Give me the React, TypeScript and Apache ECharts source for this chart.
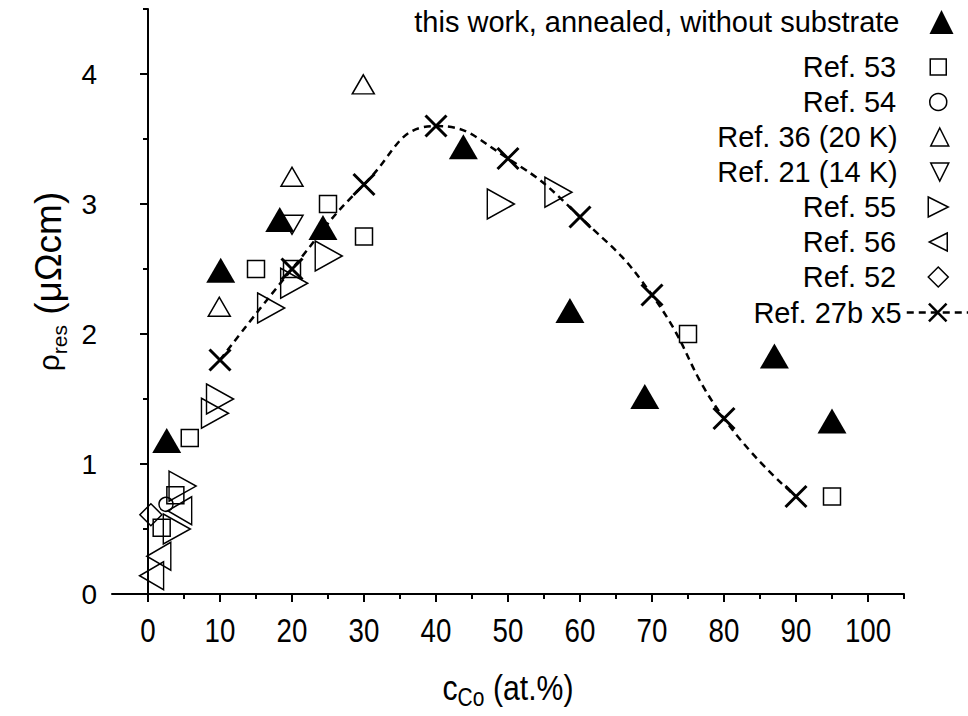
import React, { useEffect, useRef } from "react";
import * as echarts from "echarts";

// Residual resistivity vs. Co concentration, [c_Co (at.%), rho_res (µΩcm)]
const thisWork = [[2.6, 1.18], [10.1, 2.49], [18.3, 2.88], [24.3, 2.82], [43.8, 3.44], [58.6, 2.18], [69.0, 1.52], [87.0, 1.83], [95.0, 1.33]];
const ref53 = [[1.9, 0.51], [3.8, 0.76], [5.8, 1.2], [15, 2.5], [20, 2.5], [25, 3.0], [30, 2.75], [75, 2.0], [95, 0.75]];
const ref54 = [[2.5, 0.69]];
const ref36 = [[9.9, 2.21], [20, 3.21], [29.9, 3.92]];
const ref21 = [[20, 2.84]];
const ref55 = [[4.0, 0.5], [4.8, 0.83], [9.3, 1.39], [10, 1.5], [17.1, 2.2], [20.3, 2.39], [25.1, 2.6], [49, 3.0], [57, 3.09]];
const ref56 = [[0.5, 0.14], [1.5, 0.29], [4.4, 0.64]];
const ref52 = [[0.4, 0.61]];
const ref27bX = [10, 20, 30, 40, 50, 60, 70, 80, 90];
const ref27bY = [1.8, 2.5, 3.15, 3.6, 3.35, 2.9, 2.3, 1.35, 0.75];

// Axis ticks
const xTicks = [0, 10, 20, 30, 40, 50, 60, 70, 80, 90, 100];
const xMinorTicks = [5, 15, 25, 35, 45, 55, 65, 75, 85, 95, 105];
const yTicks = [0, 1, 2, 3, 4];
const yMinorTicks = [0.5, 1.5, 2.5, 3.5, 4.5];

const FONT = "'Liberation Sans', Arial, sans-serif";
const NARROW_SCALE = 0.84;

const UP = "path://M5,0L10,10L0,10Z";
const DOWN = "path://M0,0L10,0L5,10Z";
const RIGHT = "path://M0,0L10,5L0,10Z";
const LEFT = "path://M10,0L0,5L10,10Z";
const SQUARE = "path://M0,0L10,0L10,10L0,10Z";
const DIAMOND = "path://M5,0L10,5L5,10L0,5Z";
const CROSS = "path://M0,0L10,10M10,0L0,10";

type Item = {
  name: string;
  data: number[][];
  symbol: string;
  size: number[];
  legendSize: number[];
  filled?: boolean;
};

const items: Item[] = [
  { name: "this work, annealed, without substrate", data: thisWork, symbol: UP, size: [29, 25], legendSize: [29, 24], filled: true },
  { name: "Ref. 53", data: ref53, symbol: SQUARE, size: [17, 17], legendSize: [16, 16] },
  { name: "Ref. 54", data: ref54, symbol: "circle", size: [14, 14], legendSize: [17, 17] },
  { name: "Ref. 36 (20 K)", data: ref36, symbol: UP, size: [22, 19], legendSize: [21, 18] },
  { name: "Ref. 21 (14 K)", data: ref21, symbol: DOWN, size: [22, 19], legendSize: [21, 18] },
  { name: "Ref. 55", data: ref55, symbol: RIGHT, size: [27, 30], legendSize: [20, 28] },
  { name: "Ref. 56", data: ref56, symbol: LEFT, size: [24, 28], legendSize: [18, 26] },
  { name: "Ref. 52", data: ref52, symbol: DIAMOND, size: [22, 22], legendSize: [20, 20] },
];

const legendRows = [22, 67, 102, 137, 172, 207, 242, 277, 313];
const ICON_CX = 939;
const TEXT_RIGHT = 897;

export default function App() {
  const ref = useRef<HTMLDivElement>(null);

  useEffect(() => {
    if (!ref.current) return;
    const chart = echarts.init(ref.current, null, { renderer: "svg" });

    const scatterSeries = items.map((it) => ({
      name: it.name,
      type: "scatter",
      data: it.data,
      symbol: it.symbol,
      symbolSize: it.size,
      itemStyle: it.filled
        ? { color: "#000", borderWidth: 0, opacity: 1 }
        : { color: "transparent", borderColor: "#000", borderWidth: 1.5, opacity: 1 },
      z: it.filled ? 4 : 3,
    }));

    const lineSeries = {
      name: "Ref. 27b x5",
      type: "line",
      data: ref27bX.map((x, i) => [x, ref27bY[i]]),
      smooth: 0.5,
      symbol: CROSS,
      symbolSize: 21,
      showAllSymbol: true,
      lineStyle: { color: "#000", width: 2.5, type: [7, 5] },
      itemStyle: { color: "transparent", borderColor: "#000", borderWidth: 3, opacity: 1 },
      z: 5,
    };

    const legendText = (gap: number) => ({
      fontSize: 29,
      fontFamily: FONT,
      color: "#000",
      padding: [0, gap, 0, 0],
    });

    const legends: any[] = items.map((it, i) => {
      const iconLeft = ICON_CX - it.legendSize[0] / 2;
      return {
        data: [it.name],
        orient: "vertical",
        align: "right",
        padding: 0,
        selectedMode: false,
        right: 968 - (ICON_CX + it.legendSize[0] / 2),
        top: legendRows[i] - Math.max(it.legendSize[1], 29) / 2,
        itemWidth: it.legendSize[0],
        itemHeight: it.legendSize[1],
        itemStyle: it.filled ? { borderWidth: 0 } : { borderWidth: 1.5 },
        textStyle: legendText(Math.max(0, iconLeft - TEXT_RIGHT - 5)),
      };
    });
    legends.push({
      data: ["Ref. 27b x5"],
      orient: "vertical",
      align: "right",
      padding: 0,
      selectedMode: false,
      right: 968 - (ICON_CX + 31),
      top: legendRows[8] - 15,
      itemWidth: 62,
      itemHeight: 22,
      itemStyle: { borderWidth: 2.5 },
      lineStyle: { width: 2.5 },
      textStyle: legendText(0),
    });

    const axisLine = { show: true, lineStyle: { color: "#000", width: 2 } };

    chart.setOption({
      animation: false,
      grid: { left: 112, right: 64, top: 9, bottom: 122 },
      legend: legends,
      xAxis: [
        {
          type: "value",
          min: -5,
          max: 105,
          position: "bottom",
          axisLine,
          splitLine: { show: false },
          axisTick: { show: true, customValues: xTicks, length: 8, lineStyle: { color: "#000", width: 2 } },
          axisLabel: { show: false },
        },
        {
          type: "value",
          min: -5,
          max: 105,
          position: "bottom",
          axisLine: { show: false },
          splitLine: { show: false },
          axisTick: { show: true, customValues: xMinorTicks, length: 5, lineStyle: { color: "#000", width: 2 } },
          axisLabel: { show: false },
        },
      ],
      yAxis: [
        {
          type: "value",
          min: 0,
          max: 4.5,
          position: "left",
          axisLine,
          splitLine: { show: false },
          axisTick: { show: true, customValues: yTicks, length: 8, lineStyle: { color: "#000", width: 2 } },
          axisLabel: { customValues: yTicks, margin: 15, fontSize: 28, fontFamily: FONT, color: "#000" },
          name: "{r|ρ}{s|res}{a| (μΩcm)}",
          nameLocation: "middle",
          nameGap: 42,
          nameTextStyle: {
            color: "#000",
            rich: {
              r: { fontSize: 30, fontFamily: FONT, color: "#000", lineHeight: 44, padding: [0, 0, 0, 40] },
              s: { fontSize: 21, fontFamily: FONT, color: "#000", verticalAlign: "bottom" },
              a: { fontSize: 37, fontFamily: FONT, color: "#000", lineHeight: 44 },
            },
          },
        },
        {
          type: "value",
          min: 0,
          max: 4.5,
          position: "left",
          axisLine: { show: false },
          splitLine: { show: false },
          axisTick: { show: true, customValues: yMinorTicks, length: 5, lineStyle: { color: "#000", width: 2 } },
          axisLabel: { show: false },
        },
      ],
      series: [...scatterSeries, lineSeries],
    });

    // Condensed x tick labels and x-axis title, placed through the x scale
    const px = (v: number) => chart.convertToPixel({ xAxisIndex: 0 }, v) as number;
    const axisY = chart.convertToPixel({ yAxisIndex: 0 }, 0) as number;
    const tickLabels = xTicks.map((v) => ({
      type: "text",
      x: px(v),
      y: axisY + 36,
      scaleX: NARROW_SCALE,
      silent: true,
      style: {
        text: String(v),
        fontSize: 33,
        fontFamily: FONT,
        fill: "#000",
        align: "center",
        verticalAlign: "middle",
      },
    }));
    const xTitle = {
      type: "text",
      x: (px(-5) + px(105)) / 2,
      y: axisY + 94,
      scaleX: NARROW_SCALE,
      silent: true,
      style: {
        text: "{a|c}{s|Co}{a| (at.%)}",
        align: "center",
        verticalAlign: "middle",
        rich: {
          a: { fontSize: 36, fontFamily: FONT, fill: "#000", lineHeight: 44 },
          s: { fontSize: 25, fontFamily: FONT, fill: "#000", verticalAlign: "bottom" },
        },
      },
    };
    chart.setOption({ graphic: [...tickLabels, xTitle] });

    return () => chart.dispose();
  }, []);

  return (
    <div
      ref={ref}
      style={{ position: "fixed", left: 0, top: 0, width: 968, height: 716, background: "#fff" }}
    />
  );
}
